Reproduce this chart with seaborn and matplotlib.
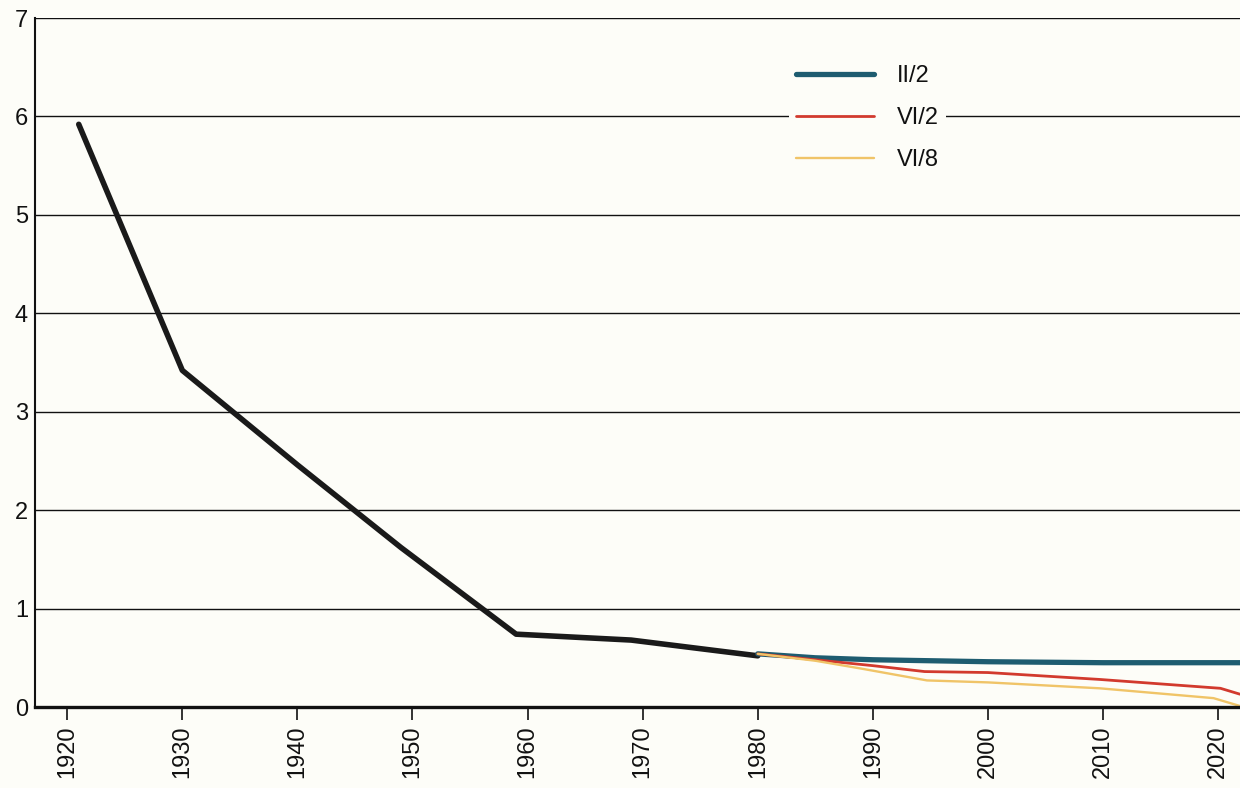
import numpy as np
import pandas as pd
import seaborn as sns
import matplotlib.pyplot as plt
from matplotlib.ticker import FixedLocator

# historic series (black) and the three projections
hist_years = [1921, 1930, 1940, 1949, 1959, 1969, 1980]
hist_vals = [5.92, 3.42, 2.46, 1.62, 0.74, 0.68, 0.52]

ii2_years = [1980, 1985, 1990, 1995, 2000, 2010, 2020, 2021.9]
ii2_vals = [0.54, 0.50, 0.48, 0.47, 0.46, 0.45, 0.45, 0.45]

vi2_years = [1980, 1985, 1990, 1994.5, 2000, 2009.7, 2020.2, 2021.9]
vi2_vals = [0.54, 0.48, 0.42, 0.36, 0.35, 0.28, 0.19, 0.13]

vi8_years = [1980, 1985, 1989, 1994.7, 2000, 2009.7, 2019.6, 2021.9]
vi8_vals = [0.54, 0.47, 0.39, 0.27, 0.25, 0.19, 0.09, 0.01]

x_ticks = list(range(1920, 2030, 10))
y_ticks = list(range(0, 8))

sns.set_theme(style="white")
plt.rcParams['font.family'] = ['Liberation Sans', 'DejaVu Sans']

fig = plt.figure(figsize=(12.4, 7.88), dpi=100, facecolor="#fdfdf8")
ax = fig.add_axes([35 / 1240, 1 - 707 / 788, 1 - 35 / 1240, (707 - 18) / 788])
ax.set_facecolor("#fdfdf8")

hist = pd.DataFrame({"year": hist_years, "val": hist_vals})
proj = pd.concat([
    pd.DataFrame({"year": ii2_years, "val": ii2_vals, "variant": "II/2"}),
    pd.DataFrame({"year": vi2_years, "val": vi2_vals, "variant": "VI/2"}),
    pd.DataFrame({"year": vi8_years, "val": vi8_vals, "variant": "VI/8"}),
])

sns.lineplot(data=hist, x="year", y="val", color="#1a1a1a", linewidth=4.0,
             ax=ax, legend=False, solid_capstyle="round")
colors = {"II/2": "#1e5c70", "VI/2": "#d23a2e", "VI/8": "#f0c468"}
widths = {"II/2": 3.8, "VI/2": 2.0, "VI/8": 1.7}
for var in ["II/2", "VI/2", "VI/8"]:
    sub = proj[proj["variant"] == var]
    sns.lineplot(data=sub, x="year", y="val", color=colors[var],
                 linewidth=widths[var], ax=ax, label=var)

ax.set_xlim(1917.2, 2021.9)
ax.set_ylim(0, 7)
ax.set_xticks(x_ticks)
ax.set_xticklabels([str(t) for t in x_ticks], rotation=90, fontsize=17, color="#111111")
ax.set_yticks(y_ticks)
ax.set_yticklabels([str(t) for t in y_ticks], fontsize=17, color="#111111")
ax.set_xlabel("")
ax.set_ylabel("")

ax.xaxis.set_minor_locator(FixedLocator([1980, 2000, 2020]))
ax.grid(False)
ax.yaxis.grid(True, color="#111111", linewidth=1.0)
ax.xaxis.grid(True, which="minor", color="#111111", linewidth=1.0)
ax.tick_params(axis="x", which="major", direction="out", length=9, width=1.2,
               color="#111111", pad=4, bottom=True)
ax.tick_params(axis="x", which="minor", length=0)
ax.tick_params(axis="y", length=0, pad=5)
ax.set_axisbelow(True)

for s in ["top", "right"]:
    ax.spines[s].set_visible(False)
ax.spines["left"].set_color("#111111")
ax.spines["left"].set_linewidth(1.5)
ax.spines["bottom"].set_color("#111111")
ax.spines["bottom"].set_linewidth(2.4)

leg = ax.legend(loc="upper left", bbox_to_anchor=(0.626, 0.942), frameon=True,
                fontsize=17, handlelength=3.3, handletextpad=0.95,
                labelspacing=0.85, borderpad=0.3, borderaxespad=0)
leg.get_frame().set_facecolor("#fdfdf8")
leg.get_frame().set_edgecolor("none")
leg.get_frame().set_alpha(1)
for t in leg.get_texts():
    t.set_color("#111111")

fig.savefig("out.png", dpi=100, facecolor=fig.get_facecolor())
